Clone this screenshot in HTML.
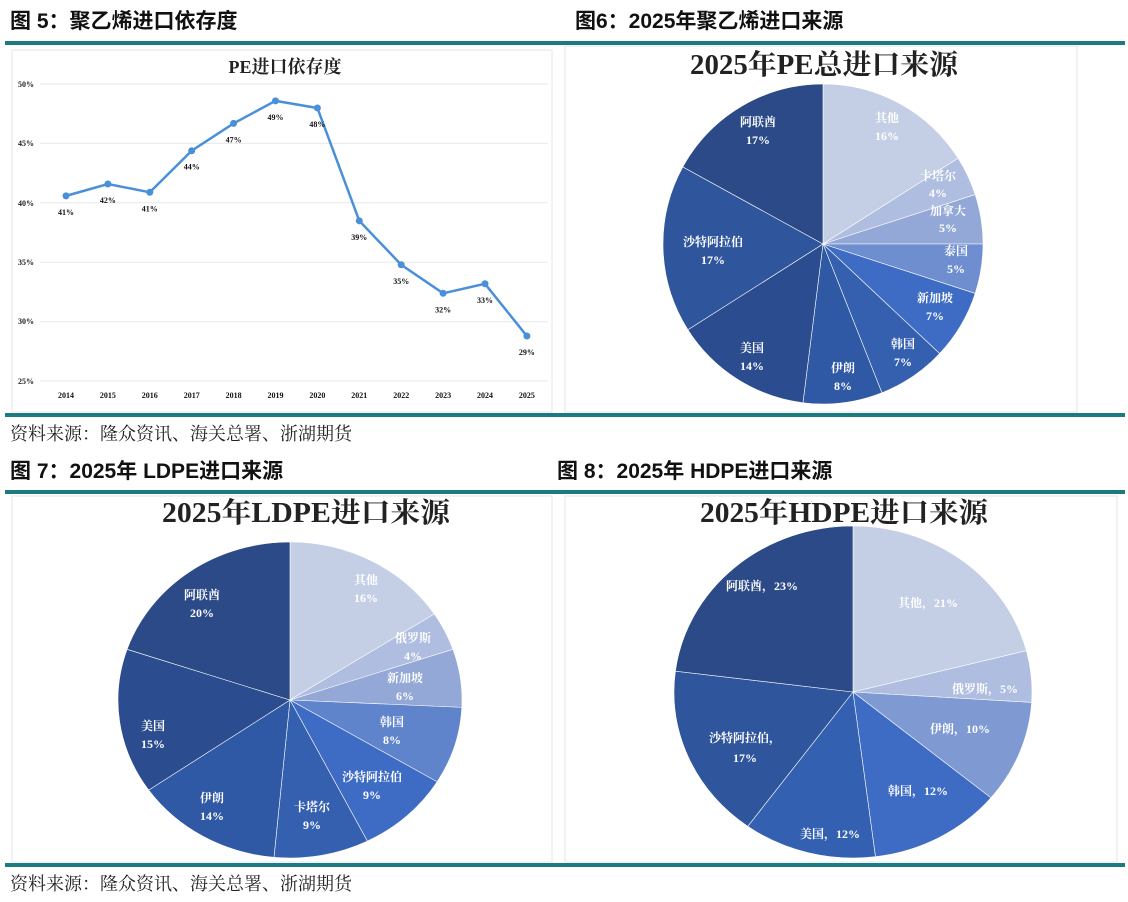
<!DOCTYPE html>
<html><head><meta charset="utf-8"><style>
body{margin:0;background:#fff;width:1128px;height:902px;overflow:hidden}
svg{display:block}
.h{font:bold 21px "Liberation Sans","Noto Sans CJK SC",sans-serif;fill:#111}
.src{font:18px "Liberation Serif","Noto Serif CJK SC",serif;fill:#222}
.t{font:bold 28px "Liberation Serif","Noto Serif CJK SC",serif;fill:#222}
.ax{font:bold 8px "Liberation Serif",serif;fill:#222}
.dl{font:bold 8px "Liberation Serif",serif;fill:#111;text-anchor:middle}
.pl{font:bold 12px "Liberation Serif","Noto Serif CJK SC",serif;fill:#fff;text-anchor:middle}
</style></head><body>
<svg id="s" width="1128" height="902" xmlns="http://www.w3.org/2000/svg">
<text class="h" x="10" y="28">图 5：聚乙烯进口依存度</text>
<text class="h" x="575" y="28">图6：2025年聚乙烯进口来源</text>
<rect x="5" y="41" width="1120" height="4" fill="#1b7b80"/>
<rect x="12" y="50" width="540" height="362" fill="none" stroke="#e3e6e8"/>
<rect x="565" y="46" width="512" height="366" fill="none" stroke="#e3e6e8"/>
<rect x="5" y="413" width="1120" height="4" fill="#1b7b80"/>
<text class="src" x="10" y="440">资料来源：隆众资讯、海关总署、浙湖期货</text>
<text class="h" x="10" y="478">图 7：2025年 LDPE进口来源</text>
<text class="h" x="557" y="478">图 8：2025年 HDPE进口来源</text>
<rect x="5" y="490" width="1120" height="4" fill="#1b7b80"/>
<rect x="12" y="496" width="540" height="366" fill="none" stroke="#e3e6e8"/>
<rect x="565" y="496" width="552" height="366" fill="none" stroke="#e3e6e8"/>
<rect x="5" y="863" width="1120" height="4" fill="#1b7b80"/>
<text class="src" x="10" y="890">资料来源：隆众资讯、海关总署、浙湖期货</text>

<text x="285" y="73" text-anchor="middle" style="font:bold 18px 'Liberation Serif','Noto Serif CJK SC',serif;fill:#222">PE进口依存度</text>
<g id="grid"></g>
<text class="ax" x="18" y="87">50%</text><text class="ax" x="18" y="146">45%</text><text class="ax" x="18" y="206">40%</text><text class="ax" x="18" y="265">35%</text><text class="ax" x="18" y="324">30%</text><text class="ax" x="18" y="384">25%</text>
<g id="line"></g>

<g id="p1"></g>
<text class="t" x="690" y="74" textLength="268" lengthAdjust="spacingAndGlyphs">2025年PE总进口来源</text>
<text class="pl" x="887" y="122">其他</text><text class="pl" x="887" y="140">16%</text>
<text class="pl" x="938" y="180">卡塔尔</text><text class="pl" x="938" y="197">4%</text>
<text class="pl" x="948" y="215">加拿大</text><text class="pl" x="948" y="232">5%</text>
<text class="pl" x="956" y="255">泰国</text><text class="pl" x="956" y="273">5%</text>
<text class="pl" x="935" y="302">新加坡</text><text class="pl" x="935" y="320">7%</text>
<text class="pl" x="903" y="348">韩国</text><text class="pl" x="903" y="366">7%</text>
<text class="pl" x="843" y="372">伊朗</text><text class="pl" x="843" y="390">8%</text>
<text class="pl" x="752" y="352">美国</text><text class="pl" x="752" y="370">14%</text>
<text class="pl" x="713" y="246">沙特阿拉伯</text><text class="pl" x="713" y="264">17%</text>
<text class="pl" x="758" y="126">阿联酋</text><text class="pl" x="758" y="144">17%</text>

<g id="p2"></g>
<text class="t" x="162" y="522" textLength="288" lengthAdjust="spacingAndGlyphs">2025年LDPE进口来源</text>
<text class="pl" x="366" y="584">其他</text><text class="pl" x="366" y="602">16%</text>
<text class="pl" x="413" y="642">俄罗斯</text><text class="pl" x="413" y="660">4%</text>
<text class="pl" x="405" y="682">新加坡</text><text class="pl" x="405" y="700">6%</text>
<text class="pl" x="392" y="726">韩国</text><text class="pl" x="392" y="744">8%</text>
<text class="pl" x="372" y="781">沙特阿拉伯</text><text class="pl" x="372" y="799">9%</text>
<text class="pl" x="312" y="811">卡塔尔</text><text class="pl" x="312" y="829">9%</text>
<text class="pl" x="212" y="802">伊朗</text><text class="pl" x="212" y="820">14%</text>
<text class="pl" x="153" y="730">美国</text><text class="pl" x="153" y="748">15%</text>
<text class="pl" x="202" y="599">阿联酋</text><text class="pl" x="202" y="617">20%</text>

<g id="p3"></g>
<text class="t" x="700" y="522" textLength="288" lengthAdjust="spacingAndGlyphs">2025年HDPE进口来源</text>
<text class="pl" x="928" y="607">其他，21%</text>
<text class="pl" x="985" y="693">俄罗斯，5%</text>
<text class="pl" x="960" y="733">伊朗，10%</text>
<text class="pl" x="918" y="795">韩国，12%</text>
<text class="pl" x="830" y="838">美国，12%</text>
<text class="pl" x="745" y="742">沙特阿拉伯，</text><text class="pl" x="745" y="762">17%</text>
<text class="pl" x="762" y="590">阿联酋，23%</text>
</svg>
<script>
var NS="http://www.w3.org/2000/svg";
function el(p,t,a){var e=document.createElementNS(NS,t);for(var k in a)e.setAttribute(k,a[k]);p.appendChild(e);return e;}
var g=document.getElementById('grid');
for(var i=0;i<6;i++){var y=84+i*59.4;el(g,'line',{x1:40,x2:548,y1:y,y2:y,stroke:'#e6e8ea'});}
var vals=[40.6,41.6,40.9,44.4,46.7,48.6,48.0,38.5,34.8,32.4,33.2,28.8],lab=[41,42,41,44,47,49,48,39,35,32,33,29];
var L=document.getElementById('line'),pts=[];
vals.forEach(function(v,i){var x=66+i*41.9,y=203-(v-40)*11.88;pts.push(x+','+y);});
el(L,'polyline',{points:pts.join(' '),fill:'none',stroke:'#4a90d9','stroke-width':2.5});
vals.forEach(function(v,i){var x=66+i*41.9,y=203-(v-40)*11.88;el(L,'circle',{cx:x,cy:y,r:3.5,fill:'#4a90d9'});
var t=el(L,'text',{x:x,y:y+19,'class':'dl'});t.textContent=lab[i]+'%';
var a=el(L,'text',{x:x,y:398,'class':'dl'});a.textContent=2014+i;});
function pie(id,cx,cy,rx,ry,d,c){var g0=document.getElementById(id);
var g=el(g0,'g',{transform:'translate('+cx+','+cy+') scale(1,'+(ry/rx)+')'});
var r=rx,s=d.reduce(function(a,b){return a+b}),a=-Math.PI/2;
d.forEach(function(v,i){var b=a+v/s*2*Math.PI,x1=r*Math.cos(a),y1=r*Math.sin(a),x2=r*Math.cos(b),y2=r*Math.sin(b);
el(g,'path',{d:'M0,0L'+x1+','+y1+'A'+r+','+r+' 0 '+((b-a)>Math.PI?1:0)+' 1 '+x2+','+y2+'Z',fill:c[i],stroke:'#fff','stroke-width':0.6});a=b;});}
pie('p1',823,244,160,160,[16,4,5,5,7,7,8,14,17,17],['#c4cfe6','#aebde0','#93a8d6','#6e8ed0','#3e6cc4','#3560b0','#2f58a5','#2b4c8e','#2f559c','#2b4a87']);
pie('p2',290,700,172,158,[16,4,6,8,9,9,14,15,20],['#c4cfe6','#aebde0','#93a8d6','#5f84cc','#3e6cc4','#3560b0','#2f58a5','#2b4c8e','#2b4a87']);
pie('p3',853,692,179,166,[21,5,10,12,12,17,23],['#c4cfe6','#aebde0','#7f9ad3','#3e6cc4','#3360b0','#2f559c','#2b4a87']);
</script>
</body></html>
